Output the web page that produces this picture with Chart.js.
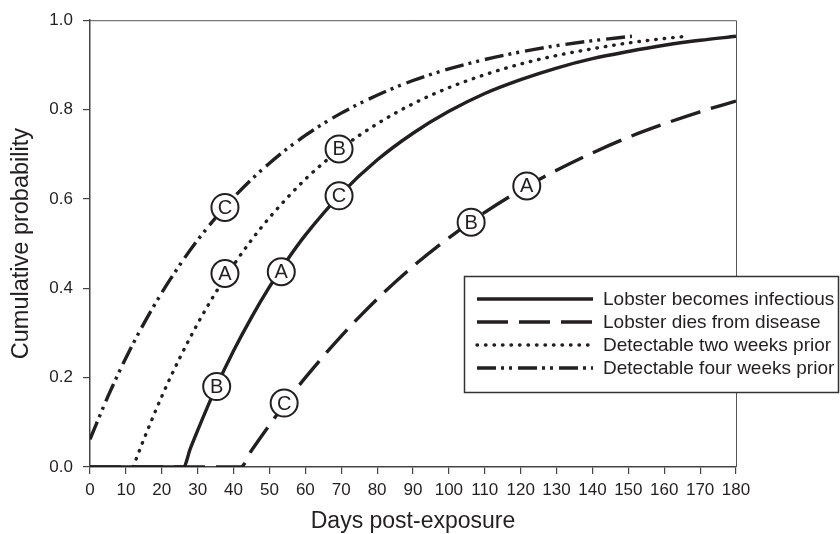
<!DOCTYPE html>
<html lang="en">
<head>
  <meta charset="UTF-8">
  <title>Cumulative probability vs days post-exposure</title>
  <script src="https://cdn.jsdelivr.net/npm/chart.js"></script>
  <style>
    body {
      margin: 0;
      padding: 0;
      background: #fff;
    }
    #wrap {
      width: 840px;
      height: 534px;
    }
  </style>
</head>
<body>
  <div id="wrap"><canvas id="lobster" width="840" height="534"></canvas></div>
  <script>
    // values
    const seriesNames = ["Lobster becomes infectious", "Lobster dies from disease",
                         "Detectable two weeks prior", "Detectable four weeks prior"];

    const infX = [0, 26, 28, 30, 35, 40, 45, 50, 55, 60, 70, 80, 90, 100, 110, 120, 130, 140, 150, 160, 170, 180];
    const infY = [0, 0, 0.042, 0.082, 0.176, 0.260, 0.335, 0.403, 0.464, 0.519, 0.612, 0.687, 0.747, 0.796, 0.836, 0.867, 0.893, 0.914, 0.930, 0.944, 0.955, 0.964];

    const dieX = [0, 42, 45, 50, 55, 60, 70, 80, 90, 100, 110, 120, 130, 140, 150, 160, 170, 180];
    const dieY = [0, 0, 0.037, 0.094, 0.149, 0.200, 0.293, 0.376, 0.449, 0.513, 0.570, 0.620, 0.664, 0.703, 0.738, 0.768, 0.795, 0.819];

    const twoX = [12, 15, 20, 25, 30, 35, 40, 45, 50, 60, 70, 80, 90, 100, 110, 120, 130, 140, 150, 160, 165];
    const twoY = [0, 0.062, 0.158, 0.244, 0.321, 0.390, 0.452, 0.508, 0.558, 0.644, 0.713, 0.768, 0.813, 0.849, 0.878, 0.902, 0.921, 0.936, 0.949, 0.959, 0.963];

    const fourX = [0, 5, 10, 15, 20, 25, 30, 40, 50, 60, 70, 80, 90, 100, 110, 120, 130, 140, 151];
    const fourY = [0.062, 0.158, 0.244, 0.321, 0.390, 0.452, 0.508, 0.603, 0.680, 0.742, 0.792, 0.832, 0.865, 0.891, 0.912, 0.929, 0.943, 0.954, 0.964];

    // circled letters sitting on the curves
    const markX = [37.6, 37.6, 69.4, 35.3, 53.3, 69.4, 54.1, 106.2, 121.7];
    const markY = [0.581, 0.433, 0.712, 0.18, 0.437, 0.607, 0.143, 0.548, 0.629];
    const markText = ["C", "A", "B", "B", "A", "C", "C", "B", "A"];

    const ink = "#231f20";
    Chart.defaults.font.family = "'Liberation Sans', Arial, Helvetica, sans-serif";
    Chart.defaults.color = ink;

    function pts(xs, ys) {
      return xs.map((x, i) => ({ x: x, y: ys[i] }));
    }

    function lineSet(label, xs, ys, dash, cap) {
      return {
        label: label,
        data: pts(xs, ys),
        borderColor: ink,
        borderWidth: 3.4,
        borderDash: dash,
        borderCapStyle: cap,
        pointRadius: 0,
        fill: false,
        cubicInterpolationMode: "monotone"
      };
    }

    const datasets = [
      lineSet(seriesNames[0], infX, infY, [], "butt"),
      lineSet(seriesNames[1], dieX, dieY, [31, 11], "butt"),
      lineSet(seriesNames[2], twoX, twoY, [0.5, 8], "round"),
      lineSet(seriesNames[3], fourX, fourY, [19, 5, 3, 5, 3, 6], "butt")
    ];

    const frame = {
      id: "frame",
      afterDatasetsDraw(chart) {
        const { ctx, chartArea: a, scales } = chart;
        ctx.save();
        ctx.strokeStyle = "#555";
        ctx.lineWidth = 1;
        ctx.beginPath();
        ctx.moveTo(a.left, a.top + 0.5);
        ctx.lineTo(a.right + 0.5, a.top + 0.5);
        ctx.lineTo(a.right + 0.5, a.bottom);
        ctx.stroke();

        // circled letters
        markX.forEach((x, i) => {
          const px = scales.x.getPixelForValue(x);
          const py = scales.y.getPixelForValue(markY[i]);
          ctx.beginPath();
          ctx.arc(px, py, 13.5, 0, Math.PI * 2);
          ctx.fillStyle = "#fff";
          ctx.fill();
          ctx.lineWidth = 2;
          ctx.strokeStyle = ink;
          ctx.stroke();
          ctx.fillStyle = ink;
          ctx.font = "20px 'Liberation Sans', Arial, sans-serif";
          ctx.textAlign = "center";
          ctx.textBaseline = "middle";
          ctx.fillText(markText[i], px, py + 1);
        });
        ctx.restore();
      },
      afterDraw(chart) {
        // legend box, partly outside the plot
        const { ctx } = chart;
        const bx = 464, by = 276, bw = 374, bh = 116;
        ctx.save();
        ctx.fillStyle = "#fff";
        ctx.fillRect(bx, by, bw, bh);
        ctx.strokeStyle = "#333";
        ctx.lineWidth = 1.5;
        ctx.strokeRect(bx + 0.5, by + 0.5, bw, bh);
        const rows = [299, 322, 345, 368];
        chart.data.datasets.forEach((ds, i) => {
          ctx.beginPath();
          ctx.setLineDash(ds.borderDash);
          ctx.lineCap = ds.borderCapStyle;
          ctx.lineWidth = ds.borderWidth;
          ctx.strokeStyle = ds.borderColor;
          ctx.moveTo(477, rows[i]);
          ctx.lineTo(593, rows[i]);
          ctx.stroke();
          ctx.setLineDash([]);
          ctx.fillStyle = ink;
          ctx.font = "19px 'Liberation Sans', Arial, sans-serif";
          ctx.textAlign = "left";
          ctx.textBaseline = "middle";
          ctx.fillText(ds.label, 603, rows[i] + 1);
        });
        ctx.restore();
      }
    };

    new Chart(document.getElementById("lobster"), {
      type: "line",
      data: { datasets: datasets },
      options: {
        responsive: false,
        devicePixelRatio: 1,
        animation: false,
        layout: { padding: { top: 16, right: 104, left: 0, bottom: 0 } },
        plugins: {
          legend: { display: false },
          tooltip: { enabled: false }
        },
        scales: {
          x: {
            type: "linear",
            min: 0,
            max: 180,
            afterFit: s => { s.height = 67; },
            ticks: { stepSize: 10, padding: 6, maxRotation: 0, font: { size: 17 }, color: ink },
            grid: { drawOnChartArea: false, drawTicks: true, tickLength: 7, color: "#444", lineWidth: 1.2 },
            border: { color: "#444", width: 1.5 },
            title: {
              display: true,
              text: "Days post-exposure",
              font: { size: 23, lineHeight: 1.1 },
              padding: { top: 0, bottom: 0 },
              color: ink
            }
          },
          y: {
            min: 0,
            max: 1,
            afterFit: s => { s.width = 90; },
            ticks: { stepSize: 0.2, padding: 10, font: { size: 17 }, color: ink,
                     callback: v => v.toFixed(1) },
            grid: { drawOnChartArea: false, drawTicks: true, tickLength: 7, color: "#444", lineWidth: 1.2 },
            border: { color: "#444", width: 1.5 },
            title: {
              display: true,
              text: "Cumulative probability",
              font: { size: 23.5, lineHeight: 1.1 },
              padding: { top: 9, bottom: 0 },
              color: ink
            }
          }
        }
      },
      plugins: [frame]
    });
  </script>
</body>
</html>
